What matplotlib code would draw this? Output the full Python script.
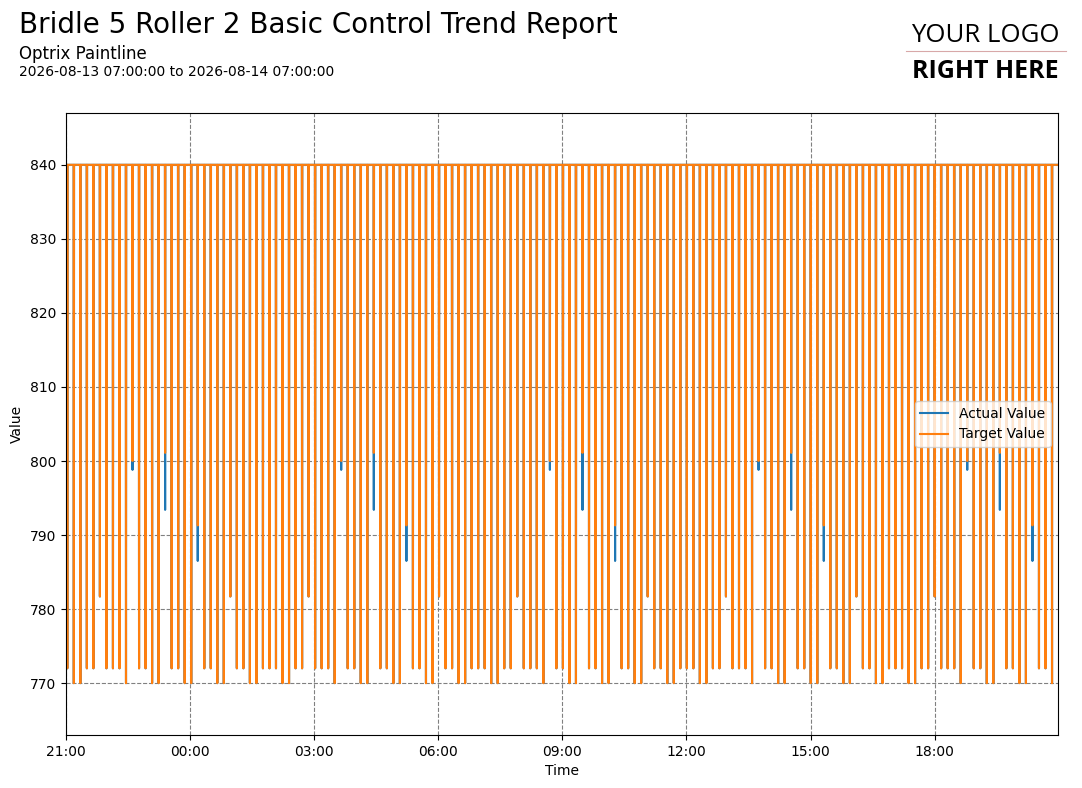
import datetime as dt
import matplotlib
matplotlib.use("Agg")
import matplotlib.pyplot as plt
import matplotlib.dates as mdates
from matplotlib.lines import Line2D

# dip bottoms of the target value, one per cycle dip (left to right)
target_low = [
    772, 770, 770, 772, 772, 781.7, 772, 772, 772, 770, 800, 772, 772, 770, 770, 801.1,
    772, 772, 770, 770, 791.3, 772, 772, 770, 770, 781.7, 772, 772, 770, 770, 772, 772,
    772, 770, 770, 772, 772, 781.7, 772, 772, 772, 770, 800, 772, 772, 770, 770, 801.1,
    772, 772, 770, 770, 791.3, 772, 772, 770, 770, 781.7, 772, 772, 770, 770, 772, 772,
    772, 770, 770, 772, 772, 781.7, 772, 772, 772, 770, 800, 772, 772, 770, 770, 801.1,
    772, 772, 770, 770, 791.3, 772, 772, 770, 770, 781.7, 772, 772, 770, 770, 772, 772,
    772, 770, 770, 772, 772, 781.7, 772, 772, 772, 770, 800, 772, 772, 770, 770, 801.1,
    772, 772, 770, 770, 791.3, 772, 772, 770, 770, 781.7, 772, 772, 770, 770, 772, 772,
    772, 770, 770, 772, 772, 781.7, 772, 772, 772, 770, 800, 772, 772, 770, 770, 801.1,
    772, 772, 770, 770, 791.3, 772, 772, 770,
]
# dips where the actual value went lower than the target
actual_dip_index = [10, 15, 20, 42, 47, 52, 74, 79, 84, 106, 111, 116, 138, 143, 148]
actual_dip_low = [798.8, 793.4, 786.5, 798.8, 793.4, 786.5, 798.8, 793.4, 786.5,
                  798.8, 793.4, 786.5, 798.8, 793.4, 786.5]
high_value = 840

start = dt.datetime(2026, 8, 12, 21, 0)
end = dt.datetime(2026, 8, 13, 20, 59)
first_dip_min = 1.9
dip_every_min = 9.46
dip_halfwidth_min = 0.3

actual_low = list(target_low)
for i, v in zip(actual_dip_index, actual_dip_low):
    actual_low[i] = v


def build_series(lows):
    times = [start]
    values = [high_value]
    for i, low in enumerate(lows):
        t = first_dip_min + i * dip_every_min
        for m, v in ((t - dip_halfwidth_min, high_value), (t, low), (t + dip_halfwidth_min, high_value)):
            times.append(start + dt.timedelta(minutes=m))
            values.append(v)
    times.append(end)
    values.append(high_value)
    return times, values


fig = plt.figure(figsize=(10.82, 7.88), dpi=100)
ax = fig.add_axes([0.061, 0.0673, 0.9168, 0.7893])

t_act, v_act = build_series(actual_low)
t_tgt, v_tgt = build_series(target_low)
ax.plot(t_act, v_act, color="#1f77b4", linewidth=1.5, label="Actual Value")
ax.plot(t_tgt, v_tgt, color="#ff7f0e", linewidth=1.5, label="Target Value")

ax.set_xlim(start, end)
ax.set_ylim(763, 847)
ax.set_yticks(range(770, 841, 10))
ax.set_xticks([start + dt.timedelta(hours=h) for h in range(0, 24, 3)])
ax.xaxis.set_major_formatter(mdates.DateFormatter("%H:%M"))
ax.grid(True, color="gray", linestyle="--", linewidth=0.8)
ax.set_xlabel("Time")
ax.set_ylabel("Value")
ax.legend(loc="center right")

fig.text(0.0176, 0.968, "Bridle 5 Roller 2 Basic Control Trend Report", fontsize=20, va="center")
fig.text(0.0176, 0.931, "Optrix Paintline", fontsize=12, va="center")
fig.text(0.0176, 0.909, "2026-08-13 07:00:00 to 2026-08-14 07:00:00", fontsize=10, va="center")

# logo placeholder
fig.text(0.911, 0.955, "YOUR LOGO", fontsize=18.5, family="Open Sans", ha="center", va="center")
fig.add_artist(Line2D([0.837, 0.985], [0.935, 0.935], color="#d8a8a8", linewidth=0.8))
fig.text(0.911, 0.909, "RIGHT HERE", fontsize=18, family="Open Sans", weight="bold",
         ha="center", va="center")

fig.savefig("out.png", dpi=100)
